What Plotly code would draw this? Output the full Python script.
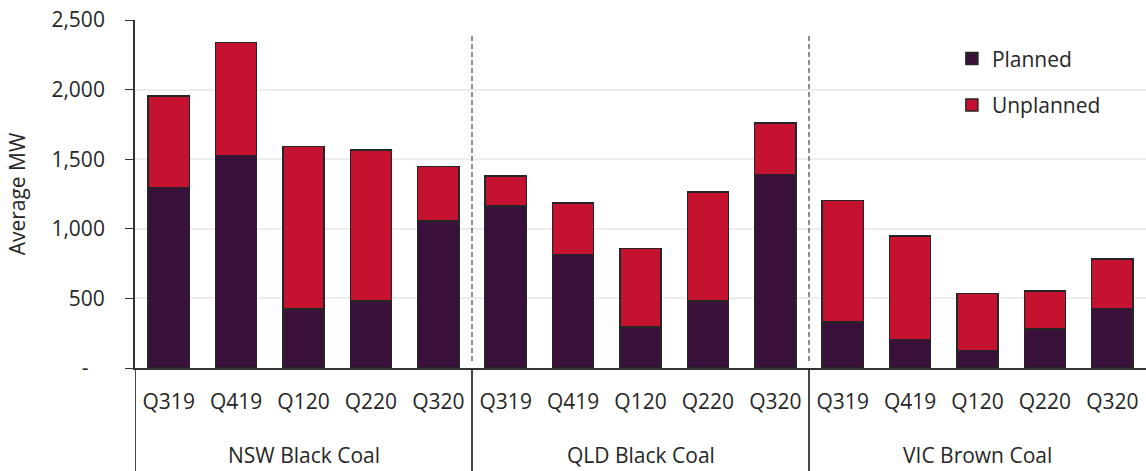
import plotly.graph_objects as go

# Quarterly average outage capacity (MW) by fuel region
regions = ["NSW Black Coal", "QLD Black Coal", "VIC Brown Coal"]
quarters = ["Q319", "Q419", "Q120", "Q220", "Q320"]

planned = {
    "NSW Black Coal": [1296, 1528, 423, 480, 1055],
    "QLD Black Coal": [1163, 814, 294, 482, 1390],
    "VIC Brown Coal": [330, 203, 126, 279, 427],
}
unplanned = {
    "NSW Black Coal": [657, 809, 1169, 1086, 392],
    "QLD Black Coal": [217, 370, 566, 781, 370],
    "VIC Brown Coal": [873, 745, 408, 275, 356],
}

y_ticks = [0, 500, 1000, 1500, 2000, 2500]
y_tick_text = ["-\u00a0\u00a0\u00a0", "500", "1,000", "1,500", "2,000", "2,500"]

PLANNED_COLOR = "#38103A"
UNPLANNED_COLOR = "#C41230"
OUTLINE = "#262626"
TEXT = "#262626"
AXIS = "#333333"
FONT = "Open Sans"
FS = 21

n_q = len(quarters)
positions = list(range(len(regions) * n_q))
tick_labels = [q for _ in regions for q in quarters]
planned_vals = [v for r in regions for v in planned[r]]
unplanned_vals = [v for r in regions for v in unplanned[r]]

fig = go.Figure()
fig.add_trace(go.Bar(
    x=positions, y=planned_vals, name="Planned", legendgroup="p",
    marker=dict(color=PLANNED_COLOR, line=dict(color=OUTLINE, width=1.5)),
))
fig.add_trace(go.Bar(
    x=positions, y=unplanned_vals, name="Unplanned", legendgroup="u",
    marker=dict(color=UNPLANNED_COLOR, line=dict(color=OUTLINE, width=1.5)),
))

# separators between regions: dashed inside the plot, solid through the label band
for i in range(1, len(regions)):
    xb = i * n_q - 0.5
    fig.add_shape(
        type="line", xref="x", yref="y",
        x0=xb, x1=xb, y0=50, y1=2400,
        line=dict(color="#444444", width=1.2, dash="5px,3px"),
    )
for i in range(len(regions)):
    xb = i * n_q - 0.5
    fig.add_shape(
        type="line", xref="x", yref="paper",
        x0=xb, x1=xb, y0=-0.30, y1=0,
        line=dict(color=AXIS, width=1.8),
    )

# region names under the quarter labels
for i, r in enumerate(regions):
    fig.add_annotation(
        x=i * n_q + (n_q - 1) / 2, y=-0.25, xref="x", yref="paper",
        text=r, showarrow=False, yanchor="middle",
        font=dict(family=FONT, size=FS, color=TEXT),
    )

fig.update_layout(
    barmode="stack",
    bargap=0.39,
    width=1146, height=471,
    margin=dict(l=135, r=0, t=20, b=103),
    paper_bgcolor="white", plot_bgcolor="white",
    font=dict(family=FONT, size=FS, color=TEXT),
    legend=dict(
        x=0.808, y=0.947, xanchor="left", yanchor="top",
        font=dict(size=FS, color=TEXT),
        traceorder="grouped", tracegroupgap=16,
        bgcolor="rgba(0,0,0,0)",
    ),
    showlegend=True,
)

fig.update_yaxes(
    range=[0, 2500],
    tickvals=y_ticks, ticktext=y_tick_text,
    showgrid=True, gridcolor="#EDEDED", gridwidth=1.5,
    showline=True, linecolor=AXIS, linewidth=1.8,
    ticks="outside", ticklen=8, tickcolor=AXIS,
    ticklabelstandoff=16,
    zeroline=False,
    title=dict(text="Average MW", font=dict(size=FS, color=TEXT), standoff=20),
    tickfont=dict(size=FS, color=TEXT),
)
fig.update_xaxes(
    range=[-0.5, len(positions) - 0.5],
    tickvals=positions, ticktext=tick_labels,
    showline=True, linecolor=AXIS, linewidth=1.8,
    showgrid=False, zeroline=False,
    ticks="", ticklabelstandoff=14,
    tickfont=dict(size=FS, color=TEXT),
)

fig.write_html("out.html")
